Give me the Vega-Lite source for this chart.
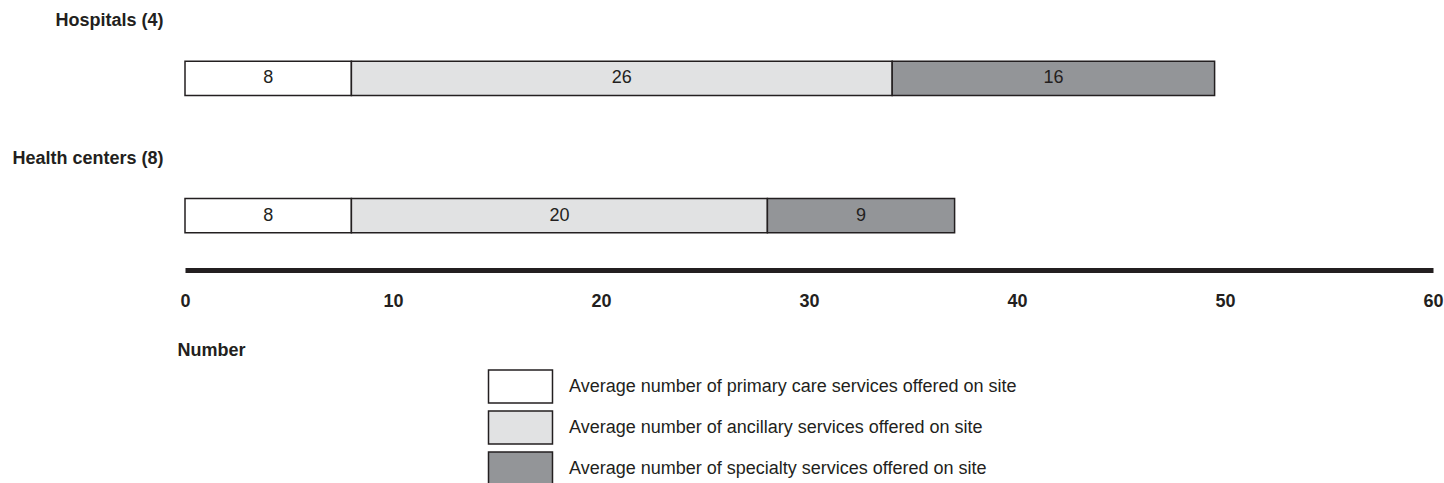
{
  "$schema": "https://vega.github.io/schema/vega-lite/v6.json",
  "width": 1248,
  "height": 246,
  "autosize": {"type": "none"},
  "padding": {"left": 185, "top": 24, "right": 11, "bottom": 213},
  "config": {
    "font": "Liberation Sans",
    "view": {"stroke": null}
  },
  "data": {
    "values": [
      {"facility": "Hospitals (4)", "service": "Average number of primary care services offered on site", "ord": 1, "value": 8, "label": "8"},
      {"facility": "Hospitals (4)", "service": "Average number of ancillary services offered on site", "ord": 2, "value": 26, "label": "26"},
      {"facility": "Hospitals (4)", "service": "Average number of specialty services offered on site", "ord": 3, "value": 15.5, "label": "16"},
      {"facility": "Health centers (8)", "service": "Average number of primary care services offered on site", "ord": 1, "value": 8, "label": "8"},
      {"facility": "Health centers (8)", "service": "Average number of ancillary services offered on site", "ord": 2, "value": 20, "label": "20"},
      {"facility": "Health centers (8)", "service": "Average number of specialty services offered on site", "ord": 3, "value": 9, "label": "9"}
    ]
  },
  "encoding": {
    "y": {
      "field": "facility",
      "type": "nominal",
      "sort": ["Hospitals (4)", "Health centers (8)"],
      "scale": {"paddingInner": 0.749, "paddingOuter": 0.271},
      "axis": {
        "title": null,
        "domain": false,
        "ticks": false,
        "labelFontSize": 18,
        "labelFontWeight": "bold",
        "labelColor": "#231f20",
        "labelPadding": 22,
        "labelOffset": -57,
        "labelAlign": "right",
        "labelBaseline": "middle",
        "labelLimit": 0
      }
    }
  },
  "layer": [
    {
      "mark": {"type": "bar", "stroke": "#231f20", "strokeWidth": 1.5},
      "encoding": {
        "x": {
          "field": "value",
          "type": "quantitative",
          "stack": "zero",
          "scale": {"domain": [0, 60], "nice": false},
          "axis": {
            "title": "Number",
            "values": [0, 10, 20, 30, 40, 50, 60],
            "grid": false,
            "ticks": false,
            "domain": true,
            "domainWidth": 5,
            "domainColor": "#231f20",
            "labelFontSize": 18,
            "labelFontWeight": "bold",
            "labelColor": "#231f20",
            "labelPadding": 22,
            "labelFlush": false,
            "titleFontSize": 18,
            "titleFontWeight": "bold",
            "titleColor": "#231f20",
            "titleAnchor": "start",
            "titleAlign": "left",
            "titleBaseline": "alphabetic",
            "titleX": -8,
            "titleY": 85
          }
        },
        "color": {
          "field": "service",
          "type": "nominal",
          "sort": [
            "Average number of primary care services offered on site",
            "Average number of ancillary services offered on site",
            "Average number of specialty services offered on site"
          ],
          "scale": {
            "domain": [
              "Average number of primary care services offered on site",
              "Average number of ancillary services offered on site",
              "Average number of specialty services offered on site"
            ],
            "range": ["#ffffff", "#e1e2e3", "#939598"]
          },
          "legend": {
            "title": null,
            "orient": "none",
            "legendX": 318,
            "legendY": 345,
            "direction": "vertical",
            "symbolType": "M-1.939,-1H1.939V1H-1.939Z",
            "symbolSize": 1089,
            "symbolStrokeColor": "#231f20",
            "symbolStrokeWidth": 1.5,
            "symbolOpacity": 1,
            "labelFontSize": 18,
            "labelColor": "#231f20",
            "labelOffset": 31,
            "labelLimit": 0,
            "rowPadding": 2
          }
        },
        "order": {"field": "ord", "type": "quantitative"}
      }
    },
    {
      "mark": {"type": "text", "fontSize": 18, "color": "#231f20", "baseline": "middle", "align": "center"},
      "encoding": {
        "x": {"field": "value", "type": "quantitative", "stack": "zero", "bandPosition": 0.5},
        "detail": {"field": "service", "type": "nominal"},
        "order": {"field": "ord", "type": "quantitative"},
        "text": {"field": "label", "type": "nominal"}
      }
    }
  ]
}
